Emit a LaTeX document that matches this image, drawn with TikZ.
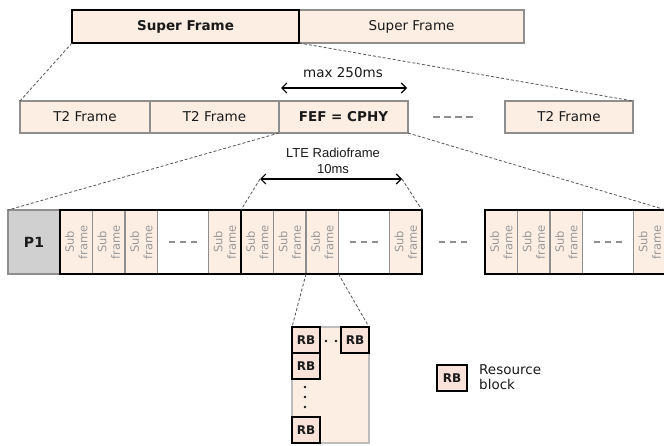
\documentclass[tikz,border=0pt]{standalone}
\usepackage{fontspec}
\setmainfont{DejaVu Sans}
\newfontfamily\arialf{Liberation Sans}
\usetikzlibrary{arrows.meta}
\definecolor{peach}{HTML}{FCEEE3}
\definecolor{rbfill}{HTML}{F9E2DA}
\definecolor{boxgray}{HTML}{8E8E8E}
\definecolor{lightgray}{HTML}{BDBDBD}
\definecolor{p1gray}{HTML}{D0D0D0}
\definecolor{subtxt}{HTML}{999999}
\definecolor{dashc}{HTML}{555555}
\definecolor{txt}{HTML}{1A1A1A}
\tikzset{
  frame/.style={draw=boxgray, line width=1.3pt, fill=peach, inner sep=0pt, outer sep=0pt,
    anchor=north west, text=txt, font=\fontsize{13.5}{16}\selectfont},
  boldframe/.style={frame, draw=black, line width=2.2pt, font=\fontsize{13.5}{16}\selectfont\bfseries},
  subcell/.style={draw=boxgray, line width=1.3pt, fill=peach, inner sep=0pt, outer sep=0pt,
    anchor=north west, minimum width=32.5pt, minimum height=64pt},
  whitecell/.style={subcell, fill=white, minimum width=51pt},
  grp/.style={draw=black, line width=2.2pt, inner sep=0pt, outer sep=0pt, anchor=north west,
    minimum width=181pt, minimum height=64pt},
  subtext/.style={rotate=90, align=center, text=subtxt, inner sep=0pt,
    font=\fontsize{11.5}{13.5}\selectfont},
  conn/.style={dashc, line width=0.8pt, dash pattern=on 3pt off 2pt},
  gdash/.style={boxgray, line width=2.4pt, dash pattern=on 6pt off 5pt},
  rb/.style={draw=black, line width=2pt, fill=rbfill, inner sep=0pt, outer sep=0pt, anchor=north west,
    minimum width=28pt, minimum height=26pt, text=txt, font=\fontsize{12}{14}\selectfont\bfseries},
  dimarrow/.style={line width=1.1pt, {Straight Barb[length=5pt,width=10pt]}-{Straight Barb[length=5pt,width=10pt]}},
}
\begin{document}
\begin{tikzpicture}[x=1pt,y=-1pt]
\useasboundingbox (0,0) rectangle (664,446);

% top row
\node[frame, minimum width=225pt, minimum height=33pt] (sf2) at (299,10) {Super Frame};
\node[boldframe, minimum width=227pt, minimum height=33pt] (sf1) at (72,10) {Super Frame};

% second row
\node[frame, minimum width=130pt, minimum height=32pt] (t1) at (20,101) {T2 Frame};
\node[frame, minimum width=129pt, minimum height=32pt] (t2) at (150,101) {T2 Frame};
\node[frame, minimum width=129pt, minimum height=32pt, font=\fontsize{13.5}{16}\selectfont\bfseries] (fef) at (279,101) {FEF = CPHY};
\node[frame, minimum width=128pt, minimum height=32pt] (t4) at (505,101) {T2 Frame};
\coordinate (ddA) at (433,117);
\coordinate (ddB) at (473,117);
\draw[boxgray, line width=2pt, dash pattern=on 6.5pt off 4.5pt] (ddA) -- (ddB);

% max 250ms
\coordinate (mA) at (281,88);
\coordinate (mB) at (407,88);
\draw[dimarrow] (mA) -- (mB);
\node[text=txt, font=\fontsize{13.5}{16}\selectfont] (mtxt) at (343,73) {max 250ms};

\draw[conn] (sf1.south west) -- (t1.north west);
\draw[conn] (sf1.south east) -- (t4.north east);

% third row
\node[frame, fill=p1gray, minimum width=52pt, minimum height=64pt, font=\fontsize{14}{16}\selectfont\bfseries] (p1) at (8,210) {P1};
\foreach \g/\gx in {1/60,2/241,3/485} {
  \node[subcell] (g\g a) at (\gx,210) {};
  \node[subcell] (g\g b) at (\gx+32.5,210) {};
  \node[subcell] (g\g c) at (\gx+65,210) {};
  \node[whitecell] (g\g w) at (\gx+97.5,210) {};
  \node[subcell] (g\g e) at (\gx+148.5,210) {};
  \foreach \c in {a,b,c,e} {
    \node[subtext] (g\g\c t) at (g\g\c.center) {Sub\\frame};
  }
  \draw[gdash] ([xshift=-14pt]g\g w.center) -- ([xshift=14pt]g\g w.center);
  \node[grp] (g\g) at (\gx,210) {};
}
\coordinate (gdA) at (439,242);
\coordinate (gdB) at (468,242);
\draw[gdash] (gdA) -- (gdB);

\draw[conn] (fef.south west) -- (p1.north west);
\draw[conn] (fef.south east) -- (g3.north east);

% LTE radioframe
\coordinate (lA) at (260,179);
\coordinate (lB) at (402,179);
\draw[dimarrow] (lA) -- (lB);
\node[align=center, text=txt, font=\fontsize{13}{16}\arialf] (ltxt) at (333,161) {LTE Radioframe\\10ms};
\draw[conn] (lA) -- (g2.north west);
\draw[conn] (lB) -- (g2.north east);

% resource blocks
\node[frame, draw=lightgray, minimum width=77pt, minimum height=116pt] (rbc) at (292,327) {};
\draw[conn] (g2c.south west) -- (rbc.north west);
\draw[conn] (g2c.south east) -- (rbc.north east);
\node[rb] (rb1) at (292,327) {RB};
\node[rb] (rb2) at (292,353) {RB};
\node[rb] (rb3) at (341,327) {RB};
\node[rb] (rb4) at (292,417) {RB};
\foreach \p in {(326,341),(336,341),(305,387),(305,397),(305,407)} {
  \fill[txt] \p circle (1.3pt);
}

% legend
\node[rb, minimum width=30pt] (rbl) at (437,365) {RB};
\node[anchor=west, align=left, text=txt, inner sep=0pt, font=\fontsize{13.5}{14.5}\selectfont] (rbltxt) at (479,377) {Resource\\block};
\end{tikzpicture}
\end{document}
